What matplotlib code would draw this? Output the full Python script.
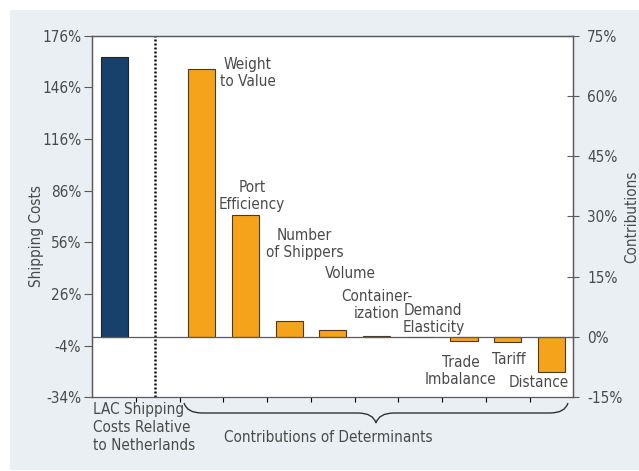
import numpy as np
import matplotlib.pyplot as plt
from matplotlib.patches import Rectangle, PathPatch
from matplotlib.path import Path

plt.rcParams['font.family'] = ['DejaVu Sans']
plt.rcParams['font.stretch'] = 'condensed'

# data
lac_label = "LAC Shipping\nCosts Relative\nto Netherlands"
lac_value = 163.5   # left axis, shipping costs (%)

determinants = ["Weight\nto Value", "Port\nEfficiency", "Number\nof Shippers", "Volume",
                "Container-\nization", "Demand\nElasticity", "Trade\nImbalance", "Tariff", "Distance"]
contributions = [66.8, 30.3, 4.0, 1.8, 0.3, 0.0, -1.0, -1.2, -8.7]   # right axis (%)

left_ticks = [-34, -4, 26, 56, 86, 116, 146, 176]
right_ticks = [-15, 0, 15, 30, 45, 60, 75]

navy = "#17416a"
orange = "#f6a31c"
txt = "#4a4a4a"
spine_c = "#5a5a5a"
fs = 11

fig = plt.figure(figsize=(6.39, 4.71), dpi=100)
fig.patch.set_facecolor("white")
fig.patches.append(Rectangle((10/639, 1 - 470/471), 1 - 10/639, 460/471,
                             transform=fig.transFigure, facecolor="#e9eff3",
                             edgecolor="none", zorder=-10))

ax = fig.add_axes([92.3/639, 1 - 397.3/471, 481/639, 361.6/471])
ax2 = ax.twinx()

ax.set_xlim(-0.5, 10.5)
ax.set_ylim(-34, 176)
ax2.set_ylim(-15, 75)

# left-axis value that sits on the contributions zero line
lo, hi = ax2.get_ylim()
base = -34 + (0 - lo) / (hi - lo) * (176 - (-34))

x_lac = 0
x_det = np.arange(2, 2 + len(determinants))
w = 0.62

ax.bar(x_lac, lac_value - base, bottom=base, width=w, color=navy, edgecolor="#222222", linewidth=0.8)
ax2.bar(x_det, contributions, width=w, color=orange, edgecolor="#4a3a20", linewidth=0.8)

ax.set_yticks(left_ticks)
ax.set_yticklabels([f"{t}%" for t in left_ticks])
ax2.set_yticks(right_ticks)
ax2.set_yticklabels([f"{t}%" for t in right_ticks])

ax.tick_params(axis="y", direction="out", length=6, width=0.8, color=spine_c,
               labelsize=fs, labelcolor=txt, pad=2)
ax2.tick_params(axis="y", direction="inout", length=8, width=0.8, color=spine_c,
                labelsize=fs, labelcolor=txt, pad=6)

# x axis on the zero line of the contributions scale
ax.set_xticks([])
ax2.spines["bottom"].set_position(("data", 0))
ax2.xaxis.set_ticks_position("bottom")
ax2.set_xticks(np.arange(0.5, 10, 1))
ax2.set_xticklabels([])
ax2.tick_params(axis="x", direction="out", length=8, width=0.8, color=spine_c)
ax2.spines["bottom"].set_color(spine_c)

for a in (ax, ax2):
    for s in ("left", "right", "top"):
        a.spines[s].set_color(spine_c)
        a.spines[s].set_linewidth(0.9)
ax.spines["bottom"].set_color(spine_c)
ax.spines["bottom"].set_linewidth(0.9)
ax2.spines["bottom"].set_linewidth(0.9)

# separator
ax.axvline(0.93, color="#111111", linestyle=(0, (0.8, 0.8)), linewidth=1.8)

ax.set_ylabel("Shipping Costs", fontsize=fs, color=txt)
ax.yaxis.set_label_coords(-0.1, 0.446)
ax2.set_ylabel("Contributions", fontsize=fs, color=txt, rotation=90)
ax2.yaxis.set_label_coords(1.106, 0.5)

# category labels next to bars
label_pos = [(3.05, 65.8), (3.15, 35.2), (4.35, 23.1), (5.4, 15.8), (6.0, 8.0),
             (7.3, 4.4), (7.93, -8.4), (9.02, -5.5), (9.7, -11.3)]
for name, (lx, ly) in zip(determinants, label_pos):
    ax2.text(lx, ly, name, ha="center", va="center", fontsize=fs, color=txt, linespacing=1.15)

# bottom texts
fig.text(93/639, 1 - 402/471, lac_label, ha="left", va="top", fontsize=fs, color=txt, linespacing=1.25)
fig.text(224/639, 1 - 438/471, "Contributions of Determinants", ha="left", va="center",
         fontsize=fs, color=txt)

# curly brace
x0, x1, xc = 184, 568, 376
yt, ym, yb = 403, 413, 423
pts = [(x0, yt), (x0 + 3, ym), (x0 + 18, ym), (xc - 18, ym), (xc - 3, ym), (xc, yb),
       (xc + 3, ym), (xc + 18, ym), (x1 - 18, ym), (x1 - 3, ym), (x1, yt)]
codes = [Path.MOVETO, Path.CURVE3, Path.CURVE3, Path.LINETO, Path.CURVE3, Path.CURVE3,
         Path.CURVE3, Path.CURVE3, Path.LINETO, Path.CURVE3, Path.CURVE3]
verts = [(px / 639, 1 - py / 471) for px, py in pts]
fig.patches.append(PathPatch(Path(verts, codes), transform=fig.transFigure, fill=False,
                             edgecolor="#333333", linewidth=1.0))

fig.savefig("out.png", dpi=100)
